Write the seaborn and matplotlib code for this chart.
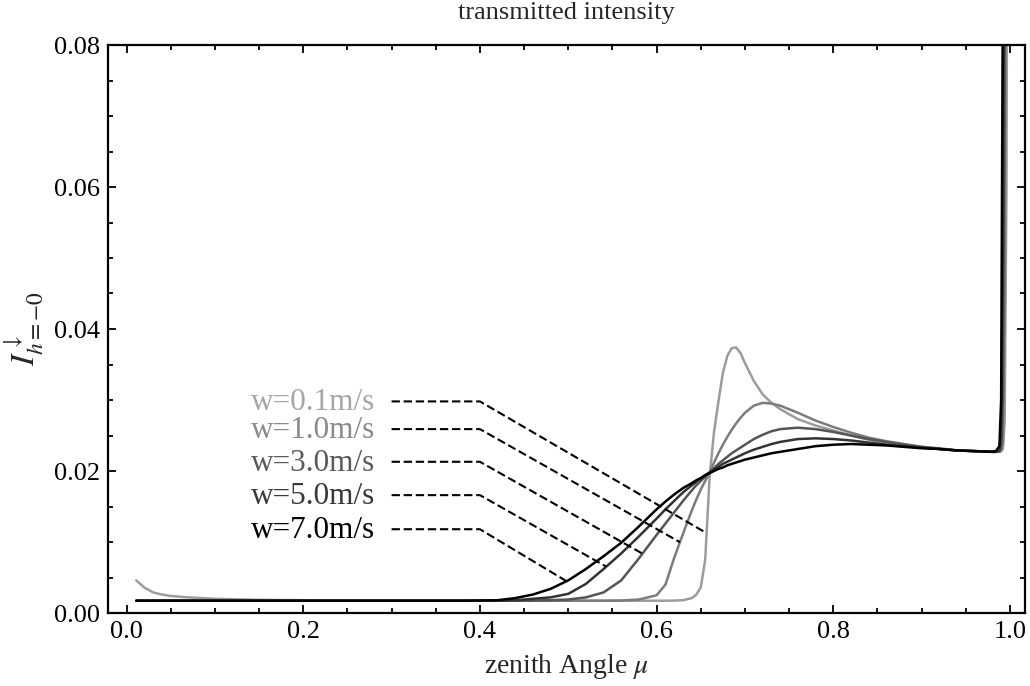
import numpy as np
import pandas as pd
import matplotlib
matplotlib.use("Agg")
import matplotlib.pyplot as plt
from matplotlib.ticker import MultipleLocator, FormatStrFormatter
import seaborn as sns

# ---------------- data ----------------
mu = [0.011, 0.02, 0.03, 0.04, 0.05, 0.07, 0.10, 0.15, 0.20, 0.30, 0.38,
      0.40, 0.42, 0.44, 0.46, 0.48, 0.50, 0.52, 0.54, 0.56, 0.58,
      0.60, 0.61, 0.62, 0.63, 0.64, 0.645, 0.65, 0.655, 0.66, 0.665,
      0.67, 0.675, 0.68, 0.685, 0.69, 0.695, 0.70, 0.71, 0.72, 0.73,
      0.74, 0.76, 0.78, 0.80, 0.82, 0.84, 0.86, 0.88, 0.90, 0.92,
      0.94, 0.96, 0.98, 0.984, 0.988, 0.990, 0.992, 0.994, 0.996, 0.998, 1.0]

I_w01 = [0.0046, 0.0036, 0.0029, 0.0026, 0.0024, 0.0022, 0.0020, 0.00185, 0.0018, 0.00175, 0.00173,
         0.00173, 0.00173, 0.00173, 0.00173, 0.00173, 0.00173, 0.00173, 0.00173, 0.00173, 0.00173,
         0.00173, 0.00173, 0.00175, 0.0018, 0.0021, 0.0026, 0.0036, 0.0075, 0.0192, 0.0255,
         0.0298, 0.0338, 0.0362, 0.0373, 0.0374, 0.0366, 0.0352, 0.0327, 0.0308, 0.0296,
         0.0287, 0.0273, 0.0264, 0.0257, 0.0250, 0.0244, 0.0239, 0.0236, 0.0233, 0.0231,
         0.0229, 0.0228, 0.0227, 0.0227, 0.0227, 0.0228, 0.0231, 0.0270, 0.060, 0.150, 0.300]

I_w10 = [0.00173] * 11 + \
        [0.00173, 0.00173, 0.00173, 0.00173, 0.00173, 0.00173, 0.00173, 0.00173, 0.00176, 0.0019,
         0.0025, 0.0040, 0.0078, 0.0112, 0.0145, 0.0160, 0.0174, 0.0186, 0.0198, 0.0212,
         0.0225, 0.0237, 0.0248, 0.0258, 0.0267, 0.0275, 0.0282, 0.0292, 0.0296, 0.0295,
         0.0292, 0.0282, 0.0271, 0.0262, 0.0254, 0.0247, 0.0242, 0.0238, 0.0234, 0.0232,
         0.0229, 0.0228, 0.0227, 0.0227, 0.0227, 0.0229, 0.0240, 0.045, 0.120, 0.250, 0.350]

I_w30 = [0.00173] * 11 + \
        [0.00173, 0.00173, 0.00173, 0.00174, 0.0018, 0.0019, 0.0022, 0.0029, 0.0046, 0.0077,
         0.0110, 0.0126, 0.0142, 0.0158, 0.0173, 0.0180, 0.0186, 0.0192, 0.0198, 0.0204,
         0.0210, 0.0215, 0.0220, 0.0225, 0.0229, 0.0233, 0.0237, 0.0245, 0.0251, 0.0256,
         0.0259, 0.0261, 0.0259, 0.0255, 0.0250, 0.0245, 0.0241, 0.0237, 0.0234, 0.0231,
         0.0229, 0.0228, 0.0227, 0.0227, 0.0228, 0.0235, 0.030, 0.080, 0.200, 0.300, 0.400]

I_w50 = [0.00173] * 11 + \
        [0.00173, 0.00176, 0.0018, 0.0020, 0.0022, 0.0027, 0.0041, 0.0062, 0.0084, 0.0108,
         0.0133, 0.0146, 0.0158, 0.0170, 0.0180, 0.0185, 0.0190, 0.0194, 0.0198, 0.0202,
         0.0206, 0.0210, 0.0213, 0.0216, 0.0219, 0.0222, 0.0225, 0.0230, 0.0234, 0.0238,
         0.0241, 0.0245, 0.0246, 0.0245, 0.0243, 0.0240, 0.0237, 0.0235, 0.0233, 0.0231,
         0.0229, 0.0228, 0.0227, 0.0227, 0.0229, 0.0250, 0.050, 0.120, 0.250, 0.350, 0.450]

I_w70 = [0.00173] * 11 + \
        [0.00176, 0.0018, 0.0021, 0.0026, 0.0034, 0.0046, 0.0062, 0.0080, 0.0099, 0.0122,
         0.0146, 0.0157, 0.0167, 0.0176, 0.0183, 0.0187, 0.0190, 0.0194, 0.0197, 0.0200,
         0.0203, 0.0205, 0.0208, 0.0210, 0.0212, 0.0214, 0.0216, 0.0219, 0.0222, 0.0225,
         0.0227, 0.0231, 0.0235, 0.0237, 0.0238, 0.0237, 0.0236, 0.0234, 0.0232, 0.0231,
         0.0229, 0.0228, 0.0227, 0.0228, 0.0235, 0.030, 0.090, 0.200, 0.300, 0.400, 0.500]

series_labels = ["w=0.1m/s", "w=1.0m/s", "w=3.0m/s", "w=5.0m/s", "w=7.0m/s"]
line_colors = ["#9c9c9c", "#7c7c7c", "#555555", "#333333", "#000000"]
text_colors = ["#a6a6a6", "#8a8a8a", "#5a5a5a", "#383838", "#000000"]
label_levels = [0.0298, 0.0259, 0.0213, 0.0166, 0.0118]   # height of the label / leader line
leader_end_mu = [0.6566, 0.6264, 0.584, 0.543, 0.498]     # where each leader meets its curve

title_text = "transmitted intensity"
xlabel_text = r"zenith Angle $\mu$"
ylabel_text = r"$I^{\downarrow}_{h=-0}$"
xticks = [0.0, 0.2, 0.4, 0.6, 0.8, 1.0]
yticks = [0.00, 0.02, 0.04, 0.06, 0.08]

all_series = [I_w01, I_w10, I_w30, I_w50, I_w70]

# ---------------- style ----------------
sns.set_theme(style="ticks")
plt.rcParams["font.family"] = ["Liberation Serif", "DejaVu Serif"]
plt.rcParams["mathtext.fontset"] = "stix"

df = pd.DataFrame({
    "mu": np.tile(mu, len(all_series)),
    "I": np.concatenate(all_series),
    "w": np.repeat(series_labels, len(mu)),
})

fig = plt.figure(figsize=(10.30, 6.86), dpi=100)
ax = fig.add_axes([108 / 1030, 1 - 613 / 686, (1025 - 108) / 1030, (613 - 45) / 686])

sns.lineplot(data=df, x="mu", y="I", hue="w", hue_order=series_labels,
             palette=line_colors, estimator=None, sort=False, linewidth=1.8,
             legend=False, ax=ax)

# leader lines and labels
for lab, ycol, lvl, xe, ys in zip(series_labels, text_colors, label_levels,
                                  leader_end_mu, all_series):
    ye = float(np.interp(xe, mu, ys))
    ax.plot([0.30, 0.40, xe], [lvl, lvl, ye], color="black", lw=1.5,
            linestyle=(0, (4, 1.8)), zorder=5)
    ax.text(0.281, lvl - 0.0002, lab, ha="right", va="center", color=ycol,
            fontsize=22.5)

ax.set_xlim(-0.021, 1.017)
ax.set_ylim(0, 0.08)
ax.set_xticks(xticks)
ax.set_yticks(yticks)
ax.xaxis.set_major_formatter(FormatStrFormatter("%.1f"))
ax.yaxis.set_major_formatter(FormatStrFormatter("%.2f"))
ax.xaxis.set_minor_locator(MultipleLocator(0.05))
ax.yaxis.set_minor_locator(MultipleLocator(0.005))
ax.tick_params(which="both", direction="in", top=True, right=True,
               color="black", width=1.3)
ax.tick_params(which="major", length=6, labelsize=19, pad=6, labelcolor="black")
ax.tick_params(which="minor", length=3.5)
for sp in ax.spines.values():
    sp.set_linewidth(1.6)
    sp.set_color("black")

ax.set_xlabel(xlabel_text, fontsize=20)
ax.xaxis.set_label_coords(0.5, -0.068)
ax.set_ylabel(ylabel_text, fontsize=24)
ax.yaxis.set_label_coords(-0.068, 0.5)

fig.text((108 + 1025) / 2 / 1030, 1 - 13 / 686, title_text, ha="center",
         va="center", fontsize=19)

fig.savefig("out.png", dpi=100)
